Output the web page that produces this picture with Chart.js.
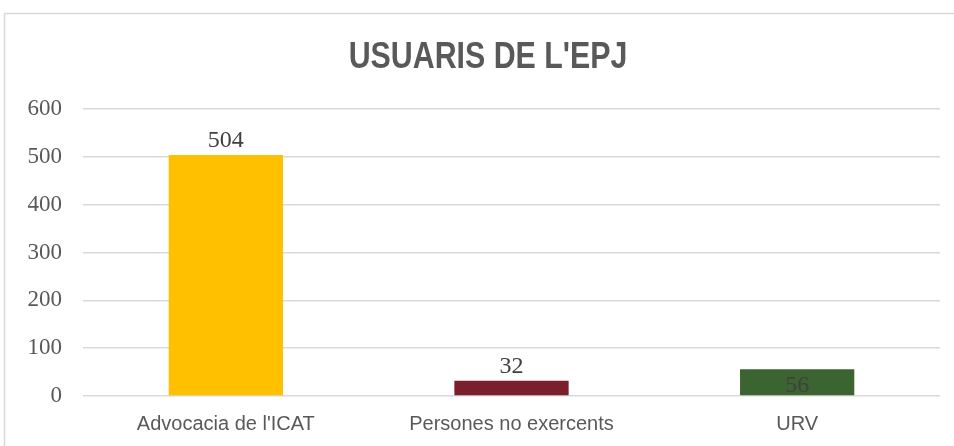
<!DOCTYPE html>
<html>
<head>
<meta charset="utf-8">
<script src="https://cdn.jsdelivr.net/npm/chart.js@4"></script>
<style>
  html, body { margin: 0; padding: 0; background: #fff; }
  #wrap { width: 954px; height: 446px; position: relative; }
</style>
</head>
<body>
<div id="wrap"><canvas id="usuaris"></canvas></div>
<script>
const categories = ['Advocacia de l\'ICAT', 'Persones no exercents', 'URV'];
const usuaris = [504, 32, 56];
const barColors = ['#FFC000', '#7A1F2B', '#3C6431'];
const labelInside = [false, false, true];
const yTicks = [0, 100, 200, 300, 400, 500, 600];
const titleText = 'USUARIS DE L\'EPJ';

const ctx = document.getElementById('usuaris').getContext('2d');

// outer frame + narrow bold title (no Arial Narrow installed, so squeeze it)
const frame = {
    id: 'frame',
    beforeDraw(chart) {
        const c = chart.ctx;
        c.save();
        c.strokeStyle = '#d9d9d9';
        c.lineWidth = 1.5;
        c.strokeRect(4.5, 13.5, chart.width + 10, chart.height + 10);
        c.restore();

        c.save();
        c.translate(488, 58);
        c.scale(0.82, 1);
        c.font = 'bold 37px "Liberation Sans", Arial, sans-serif';
        c.fillStyle = '#595959';
        c.textAlign = 'center';
        c.textBaseline = 'middle';
        c.fillText(titleText, 0, 0);
        c.restore();
    }
};

// value labels above the bars (or inside for the short green one)
const valueLabels = {
    id: 'valueLabels',
    afterDatasetsDraw(chart) {
        const c = chart.ctx;
        const meta = chart.getDatasetMeta(0);
        c.save();
        c.font = '24px "Liberation Serif", "Times New Roman", serif';
        c.fillStyle = '#404040';
        c.textAlign = 'center';
        c.textBaseline = 'middle';
        meta.data.forEach((bar, i) => {
            const y = labelInside[i] ? bar.y + 16 : bar.y - 14;
            c.fillText(String(usuaris[i]), bar.x, y);
        });
        c.restore();
    }
};

new Chart(ctx, {
    type: 'bar',
    data: {
        labels: categories,
        datasets: [{
            data: usuaris,
            backgroundColor: barColors,
            categoryPercentage: 1,
            barPercentage: 0.4
        }]
    },
    options: {
        responsive: true,
        maintainAspectRatio: false,
        animation: false,
        layout: {
            padding: { left: 0, right: 14, top: 109, bottom: 11 }
        },
        plugins: {
            legend: { display: false },
            tooltip: { enabled: false },
            title: { display: false }
        },
        scales: {
            x: {
                afterFit(scale) { scale.height = 39; },
                grid: { display: false, drawTicks: false },
                border: { display: false },
                ticks: {
                    color: '#595959',
                    padding: 16,
                    font: { family: '"Liberation Sans", Arial, sans-serif', size: 20, lineHeight: 1.2 }
                }
            },
            y: {
                min: 0,
                max: 600,
                afterFit(scale) { scale.width = 83; },
                afterBuildTicks(scale) { scale.ticks = yTicks.map(v => ({ value: v })); },
                grid: { color: '#d9d9d9', lineWidth: 1.5, drawTicks: false },
                border: { display: false },
                ticks: {
                    color: '#595959',
                    padding: 21,
                    font: { family: '"Liberation Serif", "Times New Roman", serif', size: 23 }
                }
            }
        }
    },
    plugins: [frame, valueLabels]
});
</script>
</body>
</html>
